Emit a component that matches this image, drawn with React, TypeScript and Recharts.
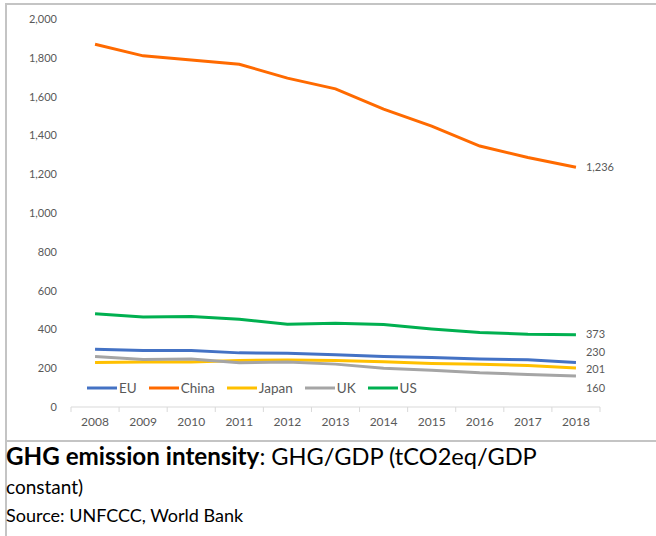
import { LineChart, Line, XAxis, YAxis, LabelList } from 'recharts';

const years = ['2008', '2009', '2010', '2011', '2012', '2013', '2014', '2015', '2016', '2017', '2018'];

const eu = [298, 291, 291, 279, 277, 269, 260, 255, 248, 243, 230];
const china = [1870, 1810, 1789, 1767, 1695, 1640, 1535, 1448, 1345, 1286, 1236];
const japan = [230, 232, 232, 240, 242, 240, 233, 224, 220, 214, 201];
const uk = [260, 245, 248, 228, 232, 221, 200, 190, 176, 168, 160];
const us = [481, 464, 467, 452, 427, 432, 425, 402, 384, 375, 373];

const yTicks = [0, 200, 400, 600, 800, 1000, 1200, 1400, 1600, 1800, 2000];

const series = [
    { key: 'EU', values: eu, color: '#4472C4', labelDy: -10 },
    { key: 'China', values: china, color: '#FF6A00', labelDy: 0 },
    { key: 'Japan', values: japan, color: '#FFC000', labelDy: 1 },
    { key: 'UK', values: uk, color: '#A5A5A5', labelDy: 12 },
    { key: 'US', values: us, color: '#00B050', labelDy: 0 },
];

const data = years.map((year, i) => {
    const row: Record<string, string | number> = { year };
    series.forEach((s) => {
        row[s.key] = s.values[i];
    });
    return row;
});

const CHART_W = 640;
const CHART_H = 430;
const Y_AXIS_W = 71;
const RIGHT = 40;
const step = (CHART_W - Y_AXIS_W - RIGHT) / years.length;
const textColor = '#595959';
const font = 'Lato, "Open Sans", sans-serif';

function YearTick(props: any) {
    const { x, y, payload, index } = props;
    const half = step / 2;
    return (
        <g>
            <line x1={x - half} x2={x - half} y1={y} y2={y + 5} stroke="#D9D9D9" />
            {index === years.length - 1 && (
                <line x1={x + half} x2={x + half} y1={y} y2={y + 5} stroke="#D9D9D9" />
            )}
            <text x={x} y={y + 19} textAnchor="middle" fontSize={12} fill={textColor} fontFamily={font}>
                {payload.value}
            </text>
        </g>
    );
}

function endLabel(dy: number) {
    return (props: any) => {
        const { x, y, value, index } = props;
        if (index !== years.length - 1) return null;
        return (
            <text x={x + 10} y={y + dy} dy="0.35em" fontSize={11} fill={textColor} fontFamily={font}>
                {Number(value).toLocaleString('en-US')}
            </text>
        );
    };
}

function LegendBox() {
    return (
        <div
            style={{
                position: 'absolute',
                left: 87,
                top: 380,
                display: 'flex',
                alignItems: 'center',
                fontFamily: font,
                fontSize: 13.5,
                color: textColor,
            }}
        >
            {series.map((s) => (
                <div key={s.key} style={{ display: 'flex', alignItems: 'center', marginRight: 12 }}>
                    <svg width={30} height={6}>
                        <line x1={0} x2={30} y1={3} y2={3} stroke={s.color} strokeWidth={3} />
                    </svg>
                    <span style={{ marginLeft: 2 }}>{s.key}</span>
                </div>
            ))}
        </div>
    );
}

export default function App() {
    return (
        <div style={{ position: 'absolute', left: 0, top: 0, width: 656, height: 536, background: '#fff', overflow: 'hidden' }}>
            <div style={{ position: 'absolute', left: 5, top: 3, width: 2, height: 533, background: '#C4C4C4' }} />
            <div style={{ position: 'absolute', left: 5, top: 3, width: 651, height: 2, background: '#C4C4C4' }} />
            <div style={{ position: 'absolute', left: 5, top: 440, width: 651, height: 2, background: '#C4C4C4' }} />

            <div style={{ position: 'absolute', left: 0, top: 0 }}>
                <LineChart
                    width={CHART_W}
                    height={CHART_H}
                    data={data}
                    margin={{ top: 19, right: RIGHT, left: 0, bottom: 0 }}
                >
                    <XAxis
                        dataKey="year"
                        height={23}
                        padding={{ left: step / 2, right: step / 2 }}
                        axisLine={{ stroke: '#D9D9D9' }}
                        tickLine={false}
                        tickSize={0}
                        tickMargin={0}
                        interval={0}
                        tick={<YearTick />}
                    />
                    <YAxis
                        width={Y_AXIS_W}
                        domain={[0, 2000]}
                        ticks={yTicks}
                        axisLine={false}
                        tickLine={false}
                        tickSize={0}
                        tickMargin={14}
                        tick={{ fontSize: 11, fill: textColor, fontFamily: font }}
                        tickFormatter={(v: number) => v.toLocaleString('en-US')}
                    />
                    {series.map((s) => (
                        <Line
                            key={s.key}
                            dataKey={s.key}
                            stroke={s.color}
                            strokeWidth={3}
                            dot={false}
                            type="linear"
                            isAnimationActive={false}
                        >
                            <LabelList dataKey={s.key} content={endLabel(s.labelDy)} />
                        </Line>
                    ))}
                </LineChart>
            </div>

            <LegendBox />

            <div style={{ position: 'absolute', left: 6, top: 442, fontFamily: font, color: '#000', lineHeight: '28px' }}>
                <div style={{ whiteSpace: 'nowrap' }}>
                    <span style={{ fontWeight: 700, fontSize: 24.2 }}>GHG emission intensity</span>
                    <span style={{ fontSize: 23.6 }}>: GHG/GDP (tCO2eq/GDP</span>
                </div>
                <div style={{ fontSize: 19 }}>constant)</div>
                <div style={{ fontSize: 18 }}>Source: UNFCCC, World Bank</div>
            </div>
        </div>
    );
}
